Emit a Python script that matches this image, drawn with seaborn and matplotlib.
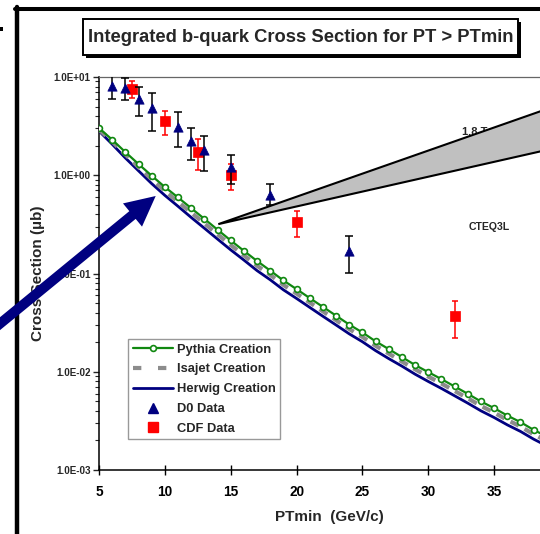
import numpy as np
import pandas as pd
import matplotlib
matplotlib.use("Agg")
import matplotlib.pyplot as plt
import seaborn as sns
from matplotlib.lines import Line2D
from matplotlib.patches import Rectangle, Polygon, FancyArrow

# ---- data -------------------------------------------------------------
pt_min = [5, 6, 7, 8, 9, 10, 11, 12, 13, 14, 15, 16, 17, 18, 19, 20, 21, 22,
          23, 24, 25, 26, 27, 28, 29, 30, 31, 32, 33, 34, 35, 36, 37, 38, 39, 40]

pythia = [3.02, 2.30, 1.72, 1.30, 0.989, 0.759, 0.594, 0.462, 0.360, 0.279,
          0.217, 0.170, 0.134, 0.107, 0.0849, 0.0693, 0.0562, 0.0457, 0.0372,
          0.0302, 0.0251, 0.0204, 0.0170, 0.0141, 0.0117, 0.00991, 0.00841,
          0.00708, 0.00596, 0.00498, 0.00426, 0.00358, 0.00307, 0.00256,
          0.00219, 0.00186]

isajet = [2.92, 2.20, 1.63, 1.21, 0.912, 0.692, 0.536, 0.417, 0.324, 0.251,
          0.195, 0.153, 0.120, 0.0968, 0.0766, 0.0625, 0.0507, 0.0412, 0.0335,
          0.0272, 0.0226, 0.0184, 0.0153, 0.0127, 0.0106, 0.00893, 0.00759,
          0.00638, 0.00537, 0.00449, 0.00384, 0.00323, 0.00277, 0.00231,
          0.00197, 0.00168]

herwig = [2.82, 2.07, 1.50, 1.11, 0.822, 0.624, 0.483, 0.372, 0.289, 0.224,
          0.174, 0.137, 0.107, 0.0863, 0.0682, 0.0557, 0.0452, 0.0367, 0.0299,
          0.0243, 0.0202, 0.0164, 0.0136, 0.0114, 0.00944, 0.00796, 0.00676,
          0.00569, 0.00479, 0.00400, 0.00342, 0.00288, 0.00247, 0.00206,
          0.00176, 0.00150]

d0_pt = [6, 7, 8, 9, 11, 12, 13, 15, 18, 24]
d0_sigma = [8.15, 7.7, 5.97, 4.79, 3.1, 2.21, 1.79, 1.21, 0.633, 0.168]
d0_high = [10.7, 9.8, 8.0, 6.87, 4.36, 3.02, 2.52, 1.62, 0.81, 0.242]
d0_low = [5.97, 5.9, 4.04, 2.84, 1.92, 1.42, 1.11, 0.81, 0.50, 0.101]

cdf_pt = [7.5, 10, 12.5, 15, 20, 32]
cdf_sigma = [7.55, 3.53, 1.71, 1.01, 0.333, 0.0373]
cdf_high = [9.0, 4.54, 2.34, 1.30, 0.435, 0.0519]
cdf_low = [6.1, 2.54, 1.12, 0.71, 0.233, 0.0223]

# shaded 1.8 TeV wedge (apex, upper edge end, lower edge end)
band_pt = [14.06, 40.0, 40.0]
band_sigma = [0.318, 5.26, 1.94]

y_ticks = [1e-3, 1e-2, 1e-1, 1e0, 1e1]
y_tick_labels = ["1.0E-03", "1.0E-02", "1.0E-01", "1.0E+00", "1.0E+01"]
x_ticks = [5, 10, 15, 20, 25, 30, 35]

curves = pd.DataFrame({"pt": pt_min, "Pythia": pythia,
                       "Isajet": isajet, "Herwig": herwig})
d0 = pd.DataFrame({"pt": d0_pt, "sigma": d0_sigma})
cdf = pd.DataFrame({"pt": cdf_pt, "sigma": cdf_sigma})

# ---- style ------------------------------------------------------------
sns.set_style("white")
plt.rcParams["font.family"] = ["Liberation Sans", "DejaVu Sans"]
plt.rcParams["font.weight"] = "bold"

GREEN = "#108810"
NAVY = "#000080"
RED = "#ff0000"
GRAY = "#8c8c8c"

W, H = 540, 534
fig = plt.figure(figsize=(W / 100, H / 100), dpi=100)
inch = fig.dpi_scale_trans


def pin(x, y):
    """pixel position (from top-left) -> inches for dpi_scale_trans"""
    return x / 100.0, (H - y) / 100.0


# axes: x 5..40 spans 99px..560px, y 1e1..1e-3 spans 77px..470px
ax = fig.add_axes([99 / W, (H - 470) / H, 461 / W, 393 / H])
ax.set_yscale("log")
ax.set_xlim(5, 40)
ax.set_ylim(1e-3, 1e1)

# ---- theory curves ----------------------------------------------------
sns.lineplot(data=curves, x="pt", y="Herwig", ax=ax, color=NAVY, lw=2.0,
             zorder=3)
sns.lineplot(data=curves, x="pt", y="Isajet", ax=ax, color=GRAY, lw=3.0,
             zorder=3)
ax.lines[-1].set_dashes((2.2, 1.6))
ax.lines[-1].set_dash_capstyle("butt")
sns.lineplot(data=curves, x="pt", y="Pythia", ax=ax, color=GREEN, lw=1.6,
             marker="o", markersize=4.2, markerfacecolor="white",
             markeredgecolor=GREEN, markeredgewidth=1.2, zorder=4)

# ---- data points ------------------------------------------------------
ax.errorbar(cdf_pt, cdf_sigma,
            yerr=[np.array(cdf_sigma) - np.array(cdf_low),
                  np.array(cdf_high) - np.array(cdf_sigma)],
            fmt="none", ecolor=RED, elinewidth=1.1, capsize=2.4,
            capthick=1.1, zorder=5)
sns.scatterplot(data=cdf, x="pt", y="sigma", ax=ax, marker="s", s=42,
                color=RED, edgecolor=RED, linewidth=0.5, zorder=6)

ax.errorbar(d0_pt, d0_sigma,
            yerr=[np.array(d0_sigma) - np.array(d0_low),
                  np.array(d0_high) - np.array(d0_sigma)],
            fmt="none", ecolor="black", elinewidth=1.1, capsize=2.6,
            capthick=1.1, zorder=7)
sns.scatterplot(data=d0, x="pt", y="sigma", ax=ax, marker="^", s=45,
                color=NAVY, edgecolor=NAVY, linewidth=0.5, zorder=8)

# ---- 1.8 TeV wedge and labels ----------------------------------------
ax.text(32.55, 2.55, "1.8 TeV", fontsize=8, fontweight="bold",
        ha="left", va="baseline", zorder=9)
ax.add_patch(Polygon(list(zip(band_pt, band_sigma)), closed=True,
                     facecolor="#c0c0c0", edgecolor="black", lw=1.5,
                     zorder=10))
ax.text(34.6, 0.294, "CTEQ3L", fontsize=7.6, fontweight="bold",
        ha="center", va="center", zorder=9)

# ---- axes styling -----------------------------------------------------
ax.set_xticks(x_ticks)
ax.set_xticklabels([str(t) for t in x_ticks], fontsize=9.8,
                   fontweight="bold")
ax.set_yticks(y_ticks)
ax.set_yticklabels(y_tick_labels, fontsize=7.1, fontweight="bold")
ax.yaxis.set_minor_locator(matplotlib.ticker.LogLocator(
    base=10, subs=np.arange(2, 10), numticks=20))
ax.yaxis.set_minor_formatter(matplotlib.ticker.NullFormatter())
ax.tick_params(axis="x", which="major", bottom=True, direction="inout",
               length=7, width=1.0, pad=7, colors="black")
ax.tick_params(axis="y", which="major", left=True, direction="out",
               length=4, width=1.0, pad=2)
ax.tick_params(axis="y", which="minor", left=True, direction="out",
               length=3, width=0.8)
ax.tick_params(axis="x", which="minor", bottom=False)

for side in ("left", "bottom"):
    ax.spines[side].set_color("black")
    ax.spines[side].set_linewidth(1.1)
ax.spines["top"].set_color("#666666")
ax.spines["top"].set_linewidth(0.9)
ax.spines["right"].set_visible(False)

ax.set_xlabel("PTmin  (GeV/c)", fontsize=11, fontweight="bold")
ax.set_ylabel("Cross Section (\u00b5b)", fontsize=11, fontweight="bold")
ax.xaxis.set_label_coords(0.5, -0.103)
ax.yaxis.set_label_coords(-0.118, 0.5)

# ---- legend -----------------------------------------------------------
handles = [
    Line2D([], [], color=GREEN, lw=1.6, marker="o", markersize=4.2,
           markerfacecolor="white", markeredgecolor=GREEN,
           markeredgewidth=1.2, markevery=[1]),
    Line2D([], [], color=GRAY, lw=3.0, dashes=(2.0, 4.0),
           dash_capstyle="butt"),
    Line2D([], [], color=NAVY, lw=2.0),
    Line2D([], [], ls="none", marker="^", markersize=6.5, color=NAVY),
    Line2D([], [], ls="none", marker="s", markersize=6.5, color=RED),
]
labels = ["Pythia Creation", "Isajet Creation", "Herwig Creation",
          "D0 Data", "CDF Data"]
leg = ax.legend(handles, labels, loc="upper left",
                bbox_to_anchor=(0.0636, 0.333), borderaxespad=0,
                frameon=True, fancybox=False,
                handlelength=3.1, handletextpad=0.3, labelspacing=0.6,
                borderpad=0.35, prop={"weight": "bold", "size": 9.3})
leg.get_frame().set_edgecolor("#808080")
leg.get_frame().set_linewidth(1.0)
leg.set_zorder(12)

# ---- slide decorations ------------------------------------------------
# title box with drop shadow
x0, y0, x1, y1 = 83, 19, 518, 55
fig.add_artist(Rectangle(pin(x0 + 3, y1 + 3), (x1 - x0) / 100,
                         (y1 - y0) / 100, transform=inch,
                         facecolor="black", edgecolor="none", zorder=20))
fig.add_artist(Rectangle(pin(x0, y1), (x1 - x0) / 100, (y1 - y0) / 100,
                         transform=inch, facecolor="white",
                         edgecolor="black", lw=1.4, zorder=21))
fig.text(*pin((x0 + x1) / 2, (y0 + y1) / 2 + 1),
         "Integrated b-quark Cross Section for PT > PTmin",
         transform=inch, fontsize=13.2, fontweight="bold",
         ha="center", va="center", zorder=22)

# outer frame lines
fig.add_artist(Line2D([pin(15, 9)[0], pin(560, 9)[0]],
                      [pin(15, 9)[1], pin(560, 9)[1]], transform=inch,
                      color="black", lw=2.9, zorder=20))
fig.add_artist(Line2D([pin(17, 7)[0], pin(17, 560)[0]],
                      [pin(17, 7)[1], pin(17, 560)[1]], transform=inch,
                      color="black", lw=3.2, zorder=20))
fig.add_artist(Rectangle(pin(-2, 31), 0.05, 0.045, transform=inch,
                         facecolor="black", edgecolor="none", zorder=20))

# pointer arrow
tail = pin(-12, 333.5)
tip = pin(155.7, 196)
fig.add_artist(FancyArrow(tail[0], tail[1], tip[0] - tail[0],
                          tip[1] - tail[1], width=0.10, head_width=0.30,
                          head_length=0.30, length_includes_head=True,
                          transform=inch, color=NAVY, lw=0, zorder=30))

fig.savefig("out.png", dpi=100)
